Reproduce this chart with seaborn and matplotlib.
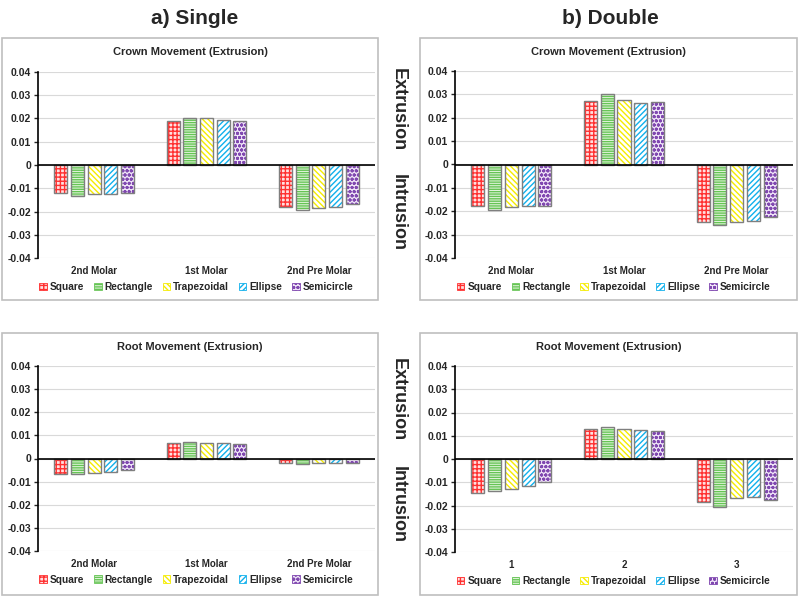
import numpy as np
import pandas as pd
import seaborn as sns
from matplotlib import pyplot as plt
from matplotlib.patches import Rectangle, Patch

# ========================================================
shapes = ["Square", "Rectangle", "Trapezoidal", "Ellipse", "Semicircle"]
teeth = ["2nd Molar", "1st Molar", "2nd Pre Molar"]
teeth_num = ["1", "2", "3"]

# rows = shapes, columns = teeth
single_crown = [
    [-0.0122, 0.0191, -0.0181],
    [-0.0134, 0.0203, -0.0194],
    [-0.0125, 0.0204, -0.0184],
    [-0.0125, 0.0194, -0.0180],
    [-0.0122, 0.0190, -0.0167],
]
double_crown = [
    [-0.0179, 0.0270, -0.0245],
    [-0.0195, 0.0303, -0.0260],
    [-0.0181, 0.0278, -0.0248],
    [-0.0179, 0.0263, -0.0240],
    [-0.0177, 0.0269, -0.0225],
]
single_root = [
    [-0.0069, 0.0066, -0.0021],
    [-0.0068, 0.0071, -0.0024],
    [-0.0062, 0.0068, -0.0019],
    [-0.0058, 0.0066, -0.0020],
    [-0.0048, 0.0062, -0.0021],
]
double_root = [
    [-0.0145, 0.0129, -0.0186],
    [-0.0139, 0.0136, -0.0208],
    [-0.0128, 0.0129, -0.0168],
    [-0.0115, 0.0125, -0.0163],
    [-0.0097, 0.0120, -0.0178],
]

colors = ["#FF3030", "#66C455", "#F5EC00", "#10B0EC", "#8048B0"]
fills = ["#FFE0E0", "#E6F6E0", "#FFFFFF", "#FFFFFF", "#EFE4F7"]
hatches = ["++++", "-------", "\\\\\\\\\\\\", "//////", "oooo"]

# ========================================================
sns.set_style("white")
plt.rcParams["font.family"] = ["Liberation Sans", "DejaVu Sans"]
plt.rcParams["hatch.linewidth"] = 1.0

W, H = 798, 597
fig = plt.figure(figsize=(W / 100, H / 100), dpi=100)


def fx(px):
    return px / W


def fy(py):
    return 1 - py / H


def tick_fmt(v, pos=None):
    if abs(v) < 1e-9:
        return "0"
    return f"{v:.2f}"


def makePanel(frame, axbox, values, cats, title, title_y):
    """
    frame = (x0, y0, x1, y1) panel border in px, axbox = (x0, ytop, x1, ybottom) in px
    """
    x0, y0, x1, y1 = frame
    fig.add_artist(Rectangle((fx(x0), fy(y1)), fx(x1 - x0), (y1 - y0) / H,
                             transform=fig.transFigure, fill=False,
                             edgecolor="#BFBFBF", lw=1.2))
    fig.text(fx((x0 + x1) / 2), fy(title_y), title, ha="center", va="center",
             fontsize=8, fontweight="bold")

    ax = fig.add_axes([fx(axbox[0]), fy(axbox[3]), fx(axbox[2] - axbox[0]),
                       (axbox[3] - axbox[1]) / H])

    df = pd.DataFrame({
        "tooth": np.tile(cats, len(shapes)),
        "shape": np.repeat(shapes, len(cats)),
        "value": np.ravel(values),
    })
    sns.barplot(data=df, x="tooth", y="value", hue="shape", order=cats,
                hue_order=shapes, palette=colors, width=0.74, gap=0.22,
                errorbar=None, legend=False, ax=ax)

    for cont, col, fc, h in zip(ax.containers, colors, fills, hatches):
        for bar in cont:
            bar.set_facecolor(fc)
            bar.set_edgecolor(col)
            bar.set_hatch(h)
            bar.set_linewidth(0)
            ax.add_patch(Rectangle(bar.get_xy(), bar.get_width(), bar.get_height(),
                                   fill=False, edgecolor="#7F7F7F", lw=1, zorder=3))

    ax.set_ylim(-0.04, 0.04)
    ax.set_yticks(np.arange(-0.04, 0.0401, 0.01))
    ax.yaxis.set_major_formatter(plt.FuncFormatter(tick_fmt))
    ax.grid(axis="y", color="#D9D9D9", lw=0.8)
    ax.set_axisbelow(True)
    ax.axhline(0, color="black", lw=1.2, zorder=4)
    for s in ["top", "right", "bottom"]:
        ax.spines[s].set_visible(False)
    ax.spines["left"].set_color("black")
    ax.spines["left"].set_linewidth(1.2)
    ax.tick_params(axis="y", length=3, width=1, direction="out", left=True,
                   labelsize=7.5, pad=2)
    ax.tick_params(axis="x", length=0, labelsize=7, pad=6)
    for lab in ax.get_xticklabels() + ax.get_yticklabels():
        lab.set_fontweight("bold")
    ax.set_xlabel("")
    ax.set_ylabel("")
    ax.patch.set_alpha(0)

    handles = [Patch(facecolor=fc, edgecolor=c, hatch=h, lw=0.6)
               for c, fc, h in zip(colors, fills, hatches)]
    ax.legend(handles, shapes, loc="center", bbox_to_anchor=(0.47, -0.155),
              ncol=5, frameon=False, handlelength=0.75, handleheight=0.75,
              columnspacing=0.95, handletextpad=0.3,
              prop={"size": 7.3, "weight": "bold"})
    return ax


makePanel((2, 38, 378, 300), (38, 72, 375, 258), single_crown, teeth,
          "Crown Movement (Extrusion)", 52)
makePanel((420, 38, 797, 300), (455, 71, 793, 258), double_crown, teeth,
          "Crown Movement (Extrusion)", 52)
makePanel((2, 333, 378, 595), (38, 366, 375, 551), single_root, teeth,
          "Root Movement (Extrusion)", 347)
makePanel((420, 333, 797, 595), (455, 366, 793, 552), double_root, teeth_num,
          "Root Movement (Extrusion)", 347)

# column headers
fig.text(fx(195), fy(19), "a) Single", ha="center", va="center", fontsize=15,
         fontweight="bold")
fig.text(fx(610), fy(19), "b) Double", ha="center", va="center", fontsize=15,
         fontweight="bold")

# side labels
for txt, yc in [("Extrusion", 110), ("Intrusion", 212), ("Extrusion", 400), ("Intrusion", 505)]:
    fig.text(fx(398), fy(yc), txt, ha="center", va="center", rotation=270,
             fontsize=13, fontweight="bold")

plt.savefig("out.png", dpi=100)
